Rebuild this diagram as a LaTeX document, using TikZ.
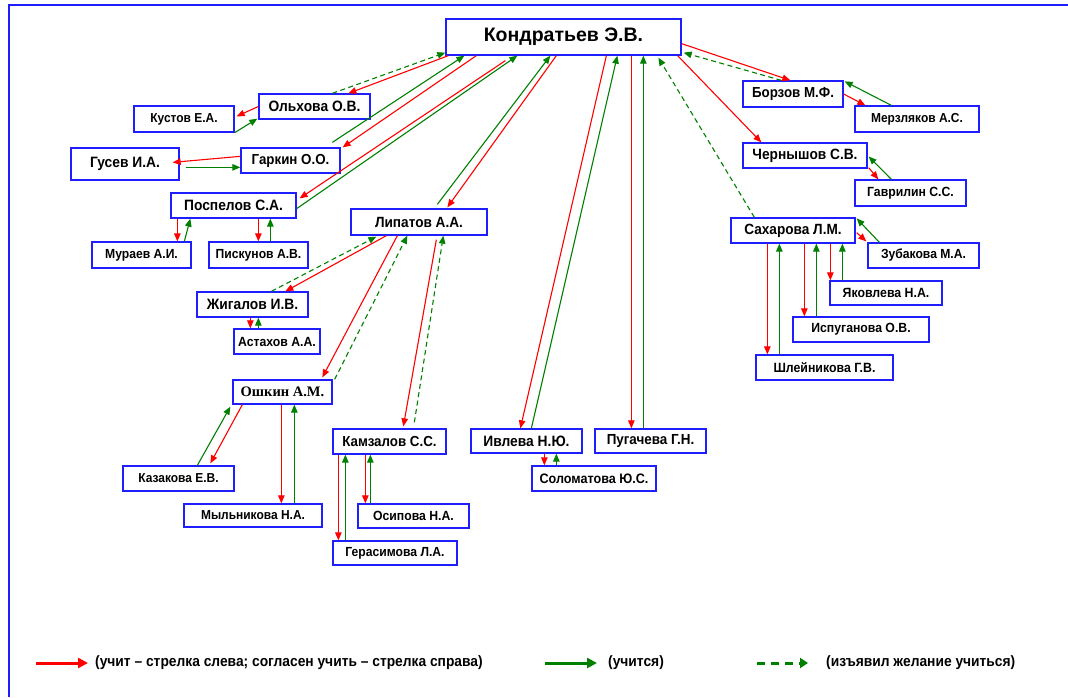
\documentclass[tikz,border=0pt]{standalone}
\usepackage{fontspec}
\setmainfont[FakeStretch=0.92]{Liberation Sans}
\newfontfamily\kfont{Liberation Sans}
\newfontfamily\serifb{Liberation Serif}
\newfontfamily\legf[FakeStretch=0.92]{Liberation Sans}
\usetikzlibrary{arrows.meta,calc,decorations.pathmorphing}
\definecolor{bblue}{RGB}{30,30,255}
\definecolor{rr}{RGB}{255,0,0}
\definecolor{gg}{RGB}{0,128,0}
\newsavebox\wvbox
\newcommand\bx[7]{\node[box,font=\fontsize{#6}{#6}\selectfont\bfseries,minimum width={(#4-#2)*1pt},minimum height={(#5-#3)*1pt}] (#1) at ({(#2+#4)/2},{(#3+#5)/2}) {#7};}
\newcommand\bxw[8]{%
  \bx{#1}{#2}{#3}{#4}{#5}{#6}{#7 #8}%
  \sbox\wvbox{\normalfont\fontsize{#6}{#6}\selectfont\bfseries #7 #8}\pgfmathsetmacro\wW{\wd\wvbox}%
  \sbox\wvbox{\normalfont\fontsize{#6}{#6}\selectfont\bfseries #7}\pgfmathsetmacro\ww{\wd\wvbox}%
  \draw[wave] ($(#1.base)+(-\wW/2,3.5)$) -- ++(\ww,0);}
\newcommand\vpair[4]{%
  \path ($(#1.south west)+(#3,0)$) coordinate (r1) ($(#1.south west)+(#4,0)$) coordinate (g1);
  \draw[redarr] (r1) -- (r1 |- #2.north);
  \draw[grnarr] (g1 |- #2.north) -- (g1);}
\begin{document}
\begin{tikzpicture}[x=1pt,y=-1pt,
  box/.style={draw=bblue,line width=1.3pt,fill=white,inner sep=0pt,align=center},
  wave/.style={draw=rr,line width=0.6pt,decorate,decoration={snake,amplitude=0.8pt,segment length=3pt}},
  redarr/.style={draw=rr,line width=1.1pt,-{Triangle[length=8pt,width=6.5pt]}},
  grnarr/.style={draw=gg,line width=1.1pt,-{Triangle[length=8pt,width=6.5pt]}},
  grndash/.style={grnarr,dash pattern=on 5pt off 3.5pt},
  legtext/.style={anchor=west,inner sep=0pt,font=\legf\fontsize{15}{15}\selectfont\bfseries}]
\useasboundingbox (0,0) rectangle (1068,697);
\fill[white] (0,0) rectangle (1068,697);
\draw[bblue,line width=1.5pt] (9,697) -- (9,5) -- (1068,5);

\bx{K}{446}{19}{681}{55}{19.5}{\kfont Кондратьев Э.В.}
\bx{ol}{259}{94}{370}{119}{15}{Ольхова О.В.}
\bx{ku}{134}{106}{234}{132}{13}{Кустов Е.А.}
\bx{gu}{71}{148}{179}{180}{15}{Гусев И.А.}
\bxw{ga}{241}{148}{340}{173}{14.5}{Гаркин}{О.О.}
\bx{po}{171}{193}{296}{218}{15}{Поспелов С.А.}
\bxw{mu}{92}{242}{191}{268}{13.2}{Мураев}{А.И.}
\bx{pi}{209}{242}{308}{268}{13.2}{Пискунов А.В.}
\bx{li}{351}{209}{487}{235}{14.8}{Липатов А.А.}
\bx{zh}{197}{292}{308}{317}{15}{Жигалов И.В.}
\bx{as}{234}{329}{320}{354}{13.3}{Астахов А.А.}
\bxw{os}{233}{380}{332}{404}{14.5}{\serifb Ошкин}{\serifb А.М.}
\bx{ka}{123}{466}{234}{491}{13}{Казакова Е.В.}
\bx{my}{184}{504}{322}{527}{13}{Мыльникова Н.А.}
\bxw{km}{333}{429}{446}{454}{14.5}{Камзалов}{С.С.}
\bx{op}{358}{504}{469}{528}{13.3}{Осипова Н.А.}
\bx{ge}{333}{541}{457}{565}{13.2}{Герасимова Л.А.}
\bx{iv}{471}{429}{582}{453}{15}{Ивлева Н.Ю.}
\bx{pu}{595}{429}{706}{453}{14.6}{Пугачева Г.Н.}
\bxw{so}{532}{466}{656}{491}{13.7}{Соломатова}{Ю.С.}
\bx{bo}{743}{81}{843}{107}{14.5}{Борзов М.Ф.}
\bx{me}{855}{106}{979}{132}{13}{Мерзляков А.С.}
\bxw{ch}{743}{143}{867}{168}{14.9}{Чернышов}{С.В.}
\bx{gv}{855}{180}{966}{206}{13.3}{Гаврилин С.С.}
\bx{sa}{731}{218}{855}{243}{14.8}{Сахарова Л.М.}
\bx{zu}{868}{243}{979}{268}{13.2}{Зубакова М.А.}
\bx{ya}{830}{281}{942}{305}{13.4}{Яковлева Н.А.}
\bxw{is}{793}{317}{929}{342}{13.3}{Испуганова}{О.В.}
\bxw{sh}{756}{355}{893}{380}{13.4}{Шлейникова}{Г.В.}

% K - Ольхова
\draw[grndash] ($(ol.north west)+(74,0)$) -- ($(K.south west)+(0,-3)$);
\draw[redarr] ($(K.south west)+(3,0)$) -- ($(ol.north west)+(90,0)$);
% K - Гаркин
\draw[grnarr] ($(ga.north west)+(92,-5)$) -- ($(K.south west)+(19,0)$);
\draw[redarr] ($(K.south west)+(31,0)$) -- ($(ga.north east)+(2,0)$);
% K - Поспелов
\draw[redarr] ($(K.south west)+(60,5)$) -- ($(po.north east)+(3,6)$);
\draw[grnarr] ($(po.south east)+(0,-10)$) -- ($(K.south west)+(72,0)$);
% K - Липатов
\draw[grnarr] ($(li.north west)+(87,-4)$) -- ($(K.south west)+(105,0)$);
\draw[redarr] ($(K.south west)+(111,0)$) -- ($(li.north west)+(97,-1)$);
% K - Ивлева
\draw[redarr] ($(K.south west)+(161,0)$) -- ($(iv.north west)+(50,0)$);
\draw[grnarr] ($(iv.north west)+(61,0)$) -- ($(K.south west)+(172,0)$);
% K - Пугачева
\draw[redarr] ($(K.south west)+(186,0)$) -- ($(pu.north west)+(37,0)$);
\draw[grnarr] ($(pu.north west)+(49,0)$) -- ($(K.south west)+(198,0)$);
% Сахарова - K
\draw[grndash] ($(sa.north west)+(24,0)$) -- ($(K.south west)+(213,2)$);
% K - Чернышов
\draw[redarr] ($(K.south east)+(-4,0)$) -- ($(ch.north west)+(19,0)$);
% K - Борзов
\draw[redarr] ($(K.south east)+(0,-12)$) -- ($(bo.north west)+(48,0)$);
\draw[grndash] ($(bo.north west)+(39,0)$) -- ($(K.south east)+(2,-3)$);
% Борзов - Мерзляков
\draw[redarr] (bo.east) -- ($(me.north west)+(11,0)$);
\draw[grnarr] ($(me.north west)+(37,0)$) -- ($(bo.north east)+(1,1)$);
% Чернышов - Гаврилин
\draw[redarr] ($(ch.south east)+(1,-1)$) -- ($(gv.north west)+(24,0)$);
\draw[grnarr] ($(gv.north west)+(37,0)$) -- ($(ch.east)+(1,1)$);
% Сахарова - Зубакова
\draw[redarr] ($(sa.south east)+(1,-11)$) -- ($(zu.north west)+(-1,-1)$);
\draw[grnarr] ($(zu.north west)+(12,0)$) -- ($(sa.north east)+(1,1)$);
\vpair{sa}{ya}{100}{112}
\vpair{sa}{is}{74}{86}
\vpair{sa}{sh}{37}{49}
% Ольхова - Кустов
\draw[redarr] (ol.west) -- ($(ku.north east)+(2,11)$);
\draw[grnarr] (ku.south east) -- ($(ol.south west)+(-1,-1)$);
% Гаркин - Гусев
\draw[redarr] ($(ga.north west)+(0,9)$) -- ($(gu.north east)+(-7,15)$);
\draw[grnarr] ($(gu.north east)+(6,20)$) -- ($(ga.north west)+(0,20)$);
% Поспелов
\draw[redarr] ($(po.south west)+(7,0)$) -- ($(mu.north west)+(86,0)$);
\draw[grnarr] ($(mu.north west)+(93,0)$) -- ($(po.south west)+(20,0)$);
\vpair{po}{pi}{88}{100}
% Липатов - Жигалов
\draw[redarr] ($(li.south west)+(36,0)$) -- ($(zh.north west)+(89,0)$);
\draw[grndash] ($(zh.north west)+(75,0)$) -- ($(li.south west)+(26,1)$);
\vpair{zh}{as}{54}{62}
% Липатов - Ошкин
\draw[redarr] ($(li.south west)+(47,0)$) -- ($(os.north west)+(90,-2)$);
\draw[grndash] ($(os.north east)+(2,0)$) -- ($(li.south west)+(57,0)$);
% Липатов - Камзалов
\draw[redarr] ($(li.south west)+(86,4)$) -- ($(km.north west)+(71,-2)$);
\draw[grndash] ($(km.north west)+(82,-6)$) -- ($(li.south west)+(93,0)$);
% Ошкин - Казакова
\draw[grnarr] ($(ka.north west)+(75,0)$) -- ($(os.south west)+(-2,2)$);
\draw[redarr] ($(os.south west)+(10,0)$) -- ($(ka.north west)+(88,-2)$);
\vpair{os}{my}{49}{62}
\vpair{km}{ge}{6}{13}
\vpair{km}{op}{33}{38}
\vpair{iv}{so}{74}{86}

% legend
\coordinate (l1a) at (36,663); \coordinate (l1b) at (88,663);
\coordinate (l2a) at (545,663); \coordinate (l2b) at (597,663);
\coordinate (l3a) at (757,663); \coordinate (l3b) at (808,663);
\draw[draw=rr,line width=3pt,-{Triangle[length=10pt,width=10pt]}] (l1a) -- (l1b);
\draw[draw=gg,line width=3pt,-{Triangle[length=10pt,width=10pt]}] (l2a) -- (l2b);
\draw[draw=gg,line width=3pt,dash pattern=on 8pt off 6pt,-{Triangle[length=8pt,width=10pt]}] (l3a) -- (l3b);
\node[legtext] (t1) at (95,663) {(учит – стрелка слева; согласен учить – стрелка справа)};
\node[legtext] (t2) at (608,663) {(учится)};
\node[legtext] (t3) at (826,663) {(изъявил желание учиться)};
\end{tikzpicture}
\end{document}
